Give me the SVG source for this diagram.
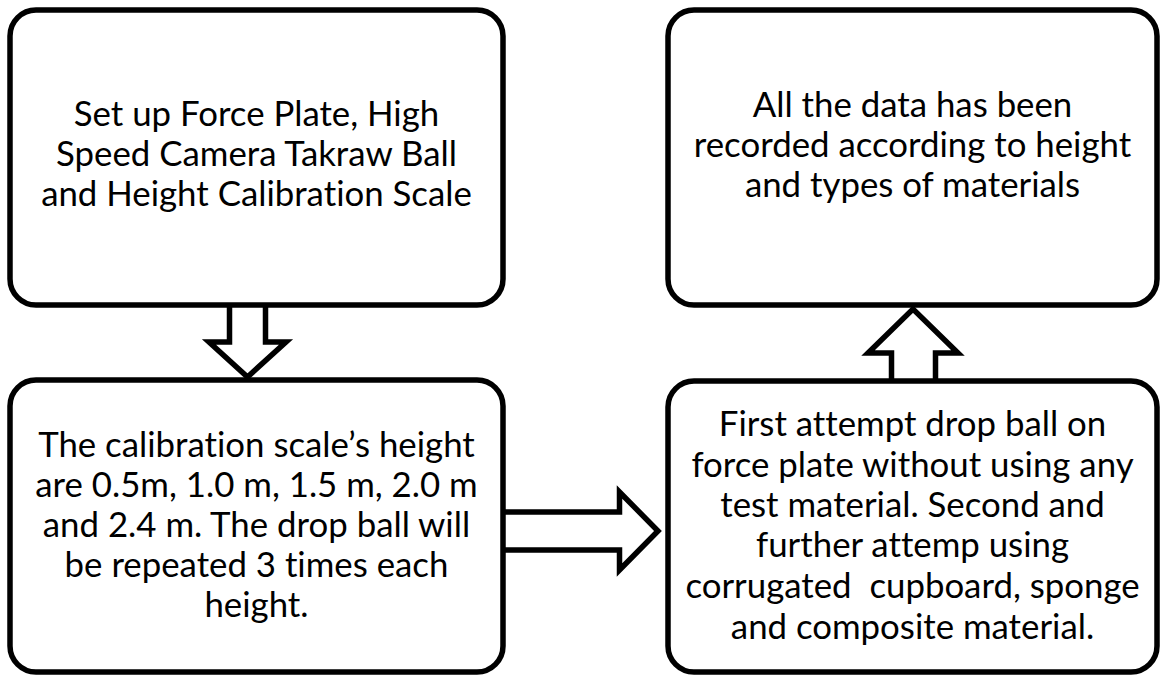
<svg xmlns="http://www.w3.org/2000/svg" width="1161" height="675" viewBox="0 0 1161 675">
<style>
.box{fill:#fff;stroke:#000;stroke-width:5.5}
.arr{fill:#fff;stroke:#000;stroke-width:5.5;stroke-linejoin:miter;stroke-miterlimit:10}
text{font-family:Lato,"Open Sans","Liberation Sans",sans-serif;font-size:34.8px;fill:#000;text-anchor:middle;font-variant-ligatures:none;font-feature-settings:"liga" 0,"clig" 0,"dlig" 0}
</style>
<rect x="0" y="0" width="1161" height="675" fill="#fff"/>
<g id="connectors">
<path class="arr" d="M229.5,305 V342 H209 L247.5,377 L286,342 H265.5 V305"/>
<path class="arr" d="M503,512 H619.5 V492 L658,531 L619.5,570 V550 H503"/>
<path class="arr" d="M891.5,381 V353 H868 L913,309 L958,353 H935.5 V381"/>
</g>
<g id="n1">
<rect class="box" x="10" y="10" width="493" height="295" rx="26"/>
<text x="256.5" y="126">Set up Force Plate, High</text>
<text x="256.5" y="166">Speed Camera Takraw Ball</text>
<text x="256.5" y="206">and Height Calibration Scale</text>
</g>
<g id="n2">
<rect class="box" x="10" y="380" width="493" height="292" rx="26"/>
<text x="256.5" y="457">The calibration scale’s height</text>
<text x="256.5" y="497">are 0.5m, 1.0 m, 1.5 m, 2.0 m</text>
<text x="256.5" y="537">and 2.4 m. The drop ball will</text>
<text x="256.5" y="577">be repeated 3 times each</text>
<text x="256.5" y="617">height.</text>
</g>
<g id="n3">
<rect class="box" x="668" y="381" width="489" height="291" rx="26"/>
<text x="912.5" y="436">First attempt drop ball on</text>
<text x="912.5" y="477">force plate without using any</text>
<text x="912.5" y="517">test material. Second and</text>
<text x="912.5" y="557">further attemp using</text>
<text x="912.5" y="598" xml:space="preserve">corrugated  cupboard, sponge</text>
<text x="912.5" y="639">and composite material.</text>
</g>
<g id="n4">
<rect class="box" x="668" y="10" width="489" height="295" rx="26"/>
<text x="912.5" y="117">All the data has been</text>
<text x="912.5" y="157">recorded according to height</text>
<text x="912.5" y="197">and types of materials</text>
</g>
</svg>
